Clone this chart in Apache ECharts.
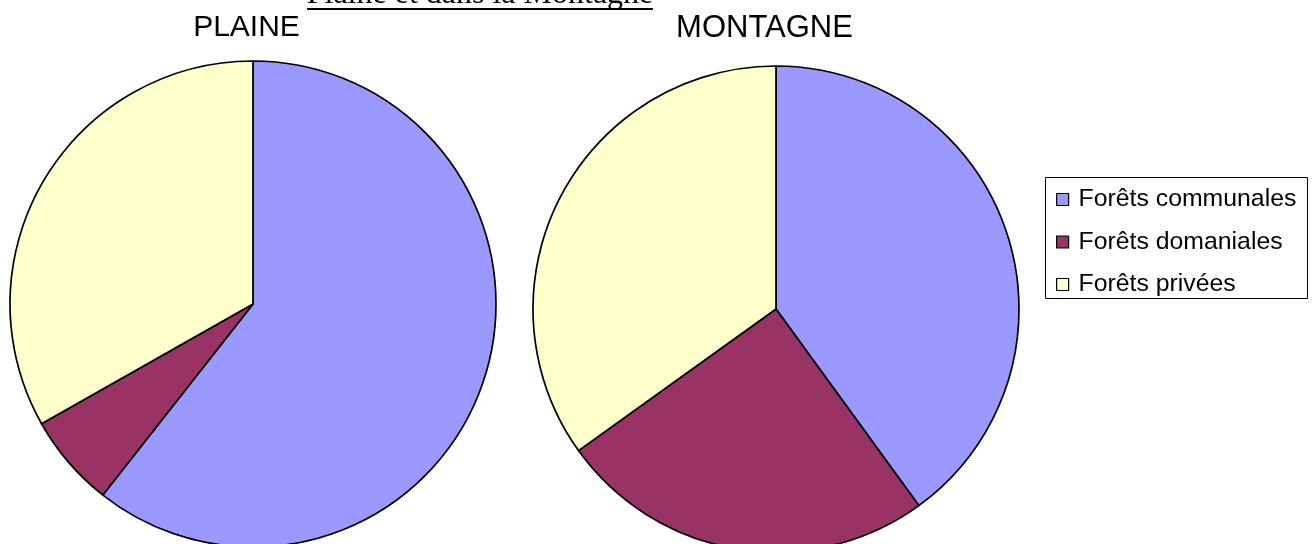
<!DOCTYPE html>
<html>
<head>
<meta charset="utf-8">
<script src="https://cdn.jsdelivr.net/npm/echarts@6/dist/echarts.min.js"></script>
<style>
html,body{margin:0;padding:0;background:#fff;}
#chart{width:1316px;height:544px;}
</style>
</head>
<body>
<div id="chart"></div>
<script>
var categories = ['Forêts communales', 'Forêts domaniales', 'Forêts privées'];
var plaineValues = [60.6, 6.2, 33.2];
var montagneValues = [40.0, 25.1, 34.9];
var pieTitles = ['PLAINE', 'MONTAGNE'];
var mainTitle = 'Plaine et dans la Montagne';
var colors = ['#9999FF', '#993366', '#FFFFCC'];

function toData(vals) {
  return categories.map(function (c, i) {
    return { name: c, value: vals[i], itemStyle: { color: colors[i] } };
  });
}

var chart = echarts.init(document.getElementById('chart'), null, { renderer: 'canvas' });

var pieCommon = {
  type: 'pie',
  radius: 243,
  startAngle: 90,
  clockwise: true,
  label: { show: false },
  labelLine: { show: false },
  emphasis: { disabled: true },
  silent: true,
  animation: false,
  itemStyle: { borderColor: '#000', borderWidth: 1.7 }
};

chart.setOption({
  animation: false,
  backgroundColor: '#ffffff',
  color: colors,
  legend: {
    orient: 'vertical',
    left: 1056,
    top: 187,
    padding: 0,
    itemGap: 17.5,
    itemWidth: 12,
    itemHeight: 12,
    icon: 'rect',
    selectedMode: false,
    itemStyle: { borderColor: '#000', borderWidth: 1.2 },
    textStyle: { fontFamily: 'Liberation Sans, Arial, sans-serif', fontSize: 24.8, color: '#000', lineHeight: 24, padding: [0, 0, 0, 5] },
    data: categories
  },
  graphic: [
    {
      type: 'text', silent: true,
      style: { text: mainTitle, x: 480, y: -5, align: 'center', verticalAlign: 'middle',
        font: '32px "Liberation Serif", "Times New Roman", serif', fill: '#000' }
    },
    {
      type: 'line', silent: true,
      shape: { x1: 307, y1: 9, x2: 653, y2: 9 },
      style: { stroke: '#000', lineWidth: 2 }
    },
    {
      type: 'text', silent: true,
      style: { text: pieTitles[0], x: 246.5, y: 28, align: 'center', verticalAlign: 'middle',
        font: '30px "Liberation Sans", Arial, sans-serif', fill: '#000' }
    },
    {
      type: 'text', silent: true,
      style: { text: pieTitles[1], x: 764.5, y: 28, align: 'center', verticalAlign: 'middle',
        font: '31px "Liberation Sans", Arial, sans-serif', fill: '#000' }
    },
    {
      type: 'rect', silent: true,
      shape: { x: 1045.5, y: 177.5, width: 262, height: 121 },
      style: { fill: 'none', stroke: '#000', lineWidth: 1 }
    }
  ],
  series: [
    Object.assign({}, pieCommon, { name: pieTitles[0], center: [253, 304], data: toData(plaineValues) }),
    Object.assign({}, pieCommon, { name: pieTitles[1], center: [776, 309], data: toData(montagneValues) })
  ]
});
</script>
</body>
</html>
